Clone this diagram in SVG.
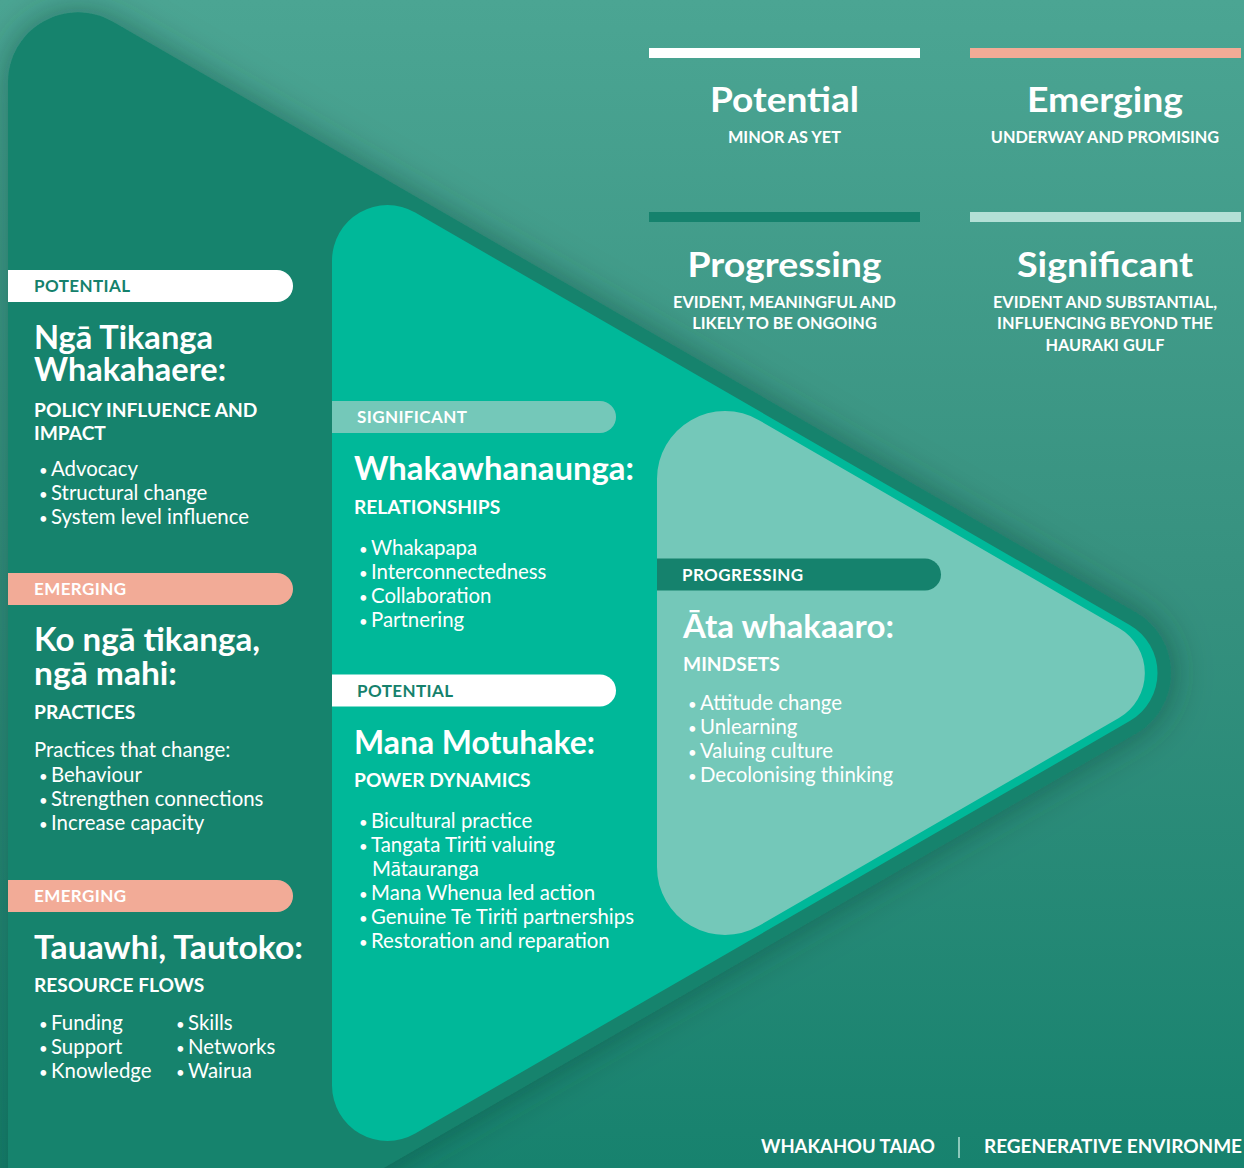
<svg xmlns="http://www.w3.org/2000/svg" width="1244" height="1168" viewBox="0 0 1244 1168">
<defs>
<linearGradient id="bg" x1="0" y1="0" x2="0" y2="1">
<stop offset="0" stop-color="#4ba593"/>
<stop offset="0.5" stop-color="#36917f"/>
<stop offset="1" stop-color="#17826e"/>
</linearGradient>
<filter id="shadow" x="-10%" y="-10%" width="130%" height="130%">
<feDropShadow dx="0" dy="0" stdDeviation="18" flood-color="#0b3b31" flood-opacity="0.5"/>
</filter>
<style>
text{font-family:Lato,"Liberation Sans",sans-serif;fill:#ffffff}
.lt{font-size:35px;font-weight:700;text-anchor:middle}
.ls{font-size:16.3px;font-weight:700;text-anchor:middle}
.pl{font-size:17px;font-weight:700;letter-spacing:0.4px}
.dk{fill:#15816c}
.h{font-size:31.5px;font-weight:700}
.sh{font-size:19.2px;font-weight:700}
.b{font-size:20.4px;font-weight:400}
.d{font-size:15px}
.ft{font-size:18.5px;font-weight:700}
</style>
</defs>
<rect x="0" y="0" width="1244" height="1168" fill="url(#bg)"/>
<g id="triangles">
<path id="outer" filter="url(#shadow)" fill="#15836d" d="M8,82.3 A70,70 0 0 1 113,21.7 L1136,612.4 A70,70 0 0 1 1136,733.6 L113,1324.3 A70,70 0 0 1 8,1263.7 Z"/>
<path id="middle" fill="#00b899" d="M332,260.5 A55.5,55.5 0 0 1 415.2,212.5 L1129.7,624.9 A55.5,55.5 0 0 1 1129.7,721.1 L415.2,1133.5 A55.5,55.5 0 0 1 332,1085.5 Z"/>
<path id="inner" fill="#74c8b9" d="M657,479.1 A68,68 0 0 1 759,420.2 L1118.9,628 A52,52 0 0 1 1118.9,718 L759,925.8 A68,68 0 0 1 657,866.9 Z"/>
</g>
<g id="legend">
<g id="legend-potential">
<rect x="649" y="48" width="271" height="10" fill="#ffffff"/>
<text class="lt" x="784.5" y="112" textLength="149" lengthAdjust="spacingAndGlyphs">Potential</text>
<text class="ls" x="784.5" y="143">MINOR AS YET</text>
</g>
<g id="legend-emerging">
<rect x="970" y="48" width="271" height="10" fill="#f2ab96"/>
<text class="lt" x="1105" y="112" textLength="156" lengthAdjust="spacingAndGlyphs">Emerging</text>
<text class="ls" x="1105" y="143">UNDERWAY AND PROMISING</text>
</g>
<g id="legend-progressing">
<rect x="649" y="212" width="271" height="10" fill="#15826d"/>
<text class="lt" x="784.5" y="277" textLength="194" lengthAdjust="spacingAndGlyphs">Progressing</text>
<text class="ls" x="784.5" y="308">EVIDENT, MEANINGFUL AND</text>
<text class="ls" x="784.5" y="329">LIKELY TO BE ONGOING</text>
</g>
<g id="legend-significant">
<rect x="970" y="212" width="271" height="10" fill="#b3e0d6"/>
<text class="lt" x="1105" y="277" textLength="176" lengthAdjust="spacingAndGlyphs">Significant</text>
<text class="ls" x="1105" y="308">EVIDENT AND SUBSTANTIAL,</text>
<text class="ls" x="1105" y="329">INFLUENCING BEYOND THE</text>
<text class="ls" x="1105" y="350.5">HAURAKI GULF</text>
</g>
</g>
<g id="policy">
<path d="M8,270 H277 A16,16 0 0 1 277,302 H8 Z" fill="#ffffff"/>
<text class="pl dk" x="34" y="292">POTENTIAL</text>
<text class="h" x="34" y="349" textLength="179" lengthAdjust="spacingAndGlyphs">Ngā Tikanga</text>
<text class="h" x="34" y="381" textLength="192" lengthAdjust="spacingAndGlyphs">Whakahaere:</text>
<text class="sh" x="34" y="416.5">POLICY INFLUENCE AND</text>
<text class="sh" x="34" y="440">IMPACT</text>
<text class="b" x="39" y="476"><tspan class="d">•</tspan><tspan x="51">Advocacy</tspan></text>
<text class="b" x="39" y="500"><tspan class="d">•</tspan><tspan x="51">Structural change</tspan></text>
<text class="b" x="39" y="524"><tspan class="d">•</tspan><tspan x="51">System level influence</tspan></text>
</g>
<g id="practices">
<path d="M8,573 H277 A16,16 0 0 1 277,605 H8 Z" fill="#f2ab97"/>
<text class="pl" x="34" y="595">EMERGING</text>
<text class="h" x="34" y="651" textLength="226" lengthAdjust="spacingAndGlyphs">Ko ngā tikanga,</text>
<text class="h" x="34" y="685" textLength="143" lengthAdjust="spacingAndGlyphs">ngā mahi:</text>
<text class="sh" x="34" y="718.5">PRACTICES</text>
<text class="b" x="34" y="756.5">Practices that change:</text>
<text class="b" x="39" y="782"><tspan class="d">•</tspan><tspan x="51">Behaviour</tspan></text>
<text class="b" x="39" y="806"><tspan class="d">•</tspan><tspan x="51">Strengthen connections</tspan></text>
<text class="b" x="39" y="830"><tspan class="d">•</tspan><tspan x="51">Increase capacity</tspan></text>
</g>
<g id="resources">
<path d="M8,880 H277 A16,16 0 0 1 277,912 H8 Z" fill="#f2ab97"/>
<text class="pl" x="34" y="901.5">EMERGING</text>
<text class="h" x="34" y="959" textLength="269" lengthAdjust="spacingAndGlyphs">Tauawhi, Tautoko:</text>
<text class="sh" x="34" y="992">RESOURCE FLOWS</text>
<text class="b" x="39" y="1029.5"><tspan class="d">•</tspan><tspan x="51">Funding</tspan></text>
<text class="b" x="39" y="1053.5"><tspan class="d">•</tspan><tspan x="51">Support</tspan></text>
<text class="b" x="39" y="1077.5"><tspan class="d">•</tspan><tspan x="51">Knowledge</tspan></text>
<text class="b" x="176" y="1029.5"><tspan class="d">•</tspan><tspan x="188">Skills</tspan></text>
<text class="b" x="176" y="1053.5"><tspan class="d">•</tspan><tspan x="188">Networks</tspan></text>
<text class="b" x="176" y="1077.5"><tspan class="d">•</tspan><tspan x="188">Wairua</tspan></text>
</g>
<g id="relationships">
<path d="M332,401 H600 A16,16 0 0 1 600,433 H332 Z" fill="#74c8b9"/>
<text class="pl" x="357" y="423">SIGNIFICANT</text>
<text class="h" x="354" y="480" textLength="280" lengthAdjust="spacingAndGlyphs">Whakawhanaunga:</text>
<text class="sh" x="354" y="513.5">RELATIONSHIPS</text>
<text class="b" x="359" y="554.5"><tspan class="d">•</tspan><tspan x="371">Whakapapa</tspan></text>
<text class="b" x="359" y="578.5"><tspan class="d">•</tspan><tspan x="371">Interconnectedness</tspan></text>
<text class="b" x="359" y="602.5"><tspan class="d">•</tspan><tspan x="371">Collaboration</tspan></text>
<text class="b" x="359" y="626.5"><tspan class="d">•</tspan><tspan x="371">Partnering</tspan></text>
</g>
<g id="power">
<path d="M332,674.5 H600 A16,16 0 0 1 600,706.5 H332 Z" fill="#ffffff"/>
<text class="pl dk" x="357" y="697">POTENTIAL</text>
<text class="h" x="354" y="753.5" textLength="241" lengthAdjust="spacingAndGlyphs">Mana Motuhake:</text>
<text class="sh" x="354" y="787">POWER DYNAMICS</text>
<text class="b" x="359" y="828"><tspan class="d">•</tspan><tspan x="371">Bicultural practice</tspan></text>
<text class="b" x="359" y="852"><tspan class="d">•</tspan><tspan x="371">Tangata Tiriti valuing</tspan></text>
<text class="b" x="372" y="876">Mātauranga</text>
<text class="b" x="359" y="900"><tspan class="d">•</tspan><tspan x="371">Mana Whenua led action</tspan></text>
<text class="b" x="359" y="924"><tspan class="d">•</tspan><tspan x="371">Genuine Te Tiriti partnerships</tspan></text>
<text class="b" x="359" y="948"><tspan class="d">•</tspan><tspan x="371">Restoration and reparation</tspan></text>
</g>
<g id="mindsets">
<path d="M657,558.5 H925 A16,16 0 0 1 925,590.5 H657 Z" fill="#15826d"/>
<text class="pl" x="682" y="581">PROGRESSING</text>
<text class="h" x="683" y="637.5" textLength="211" lengthAdjust="spacingAndGlyphs">Āta whakaaro:</text>
<text class="sh" x="683" y="671">MINDSETS</text>
<text class="b" x="688" y="709.5"><tspan class="d">•</tspan><tspan x="700">Attitude change</tspan></text>
<text class="b" x="688" y="733.5"><tspan class="d">•</tspan><tspan x="700">Unlearning</tspan></text>
<text class="b" x="688" y="757.5"><tspan class="d">•</tspan><tspan x="700">Valuing culture</tspan></text>
<text class="b" x="688" y="781.5"><tspan class="d">•</tspan><tspan x="700">Decolonising thinking</tspan></text>
</g>
<g id="footer">
<text class="ft" x="761" y="1153" textLength="174" lengthAdjust="spacingAndGlyphs">WHAKAHOU TAIAO</text>
<rect x="958" y="1137" width="2" height="21" fill="#8cc9bb"/>
<text class="ft" x="984" y="1153" textLength="258" lengthAdjust="spacingAndGlyphs">REGENERATIVE ENVIRONME</text>
</g>
</svg>
